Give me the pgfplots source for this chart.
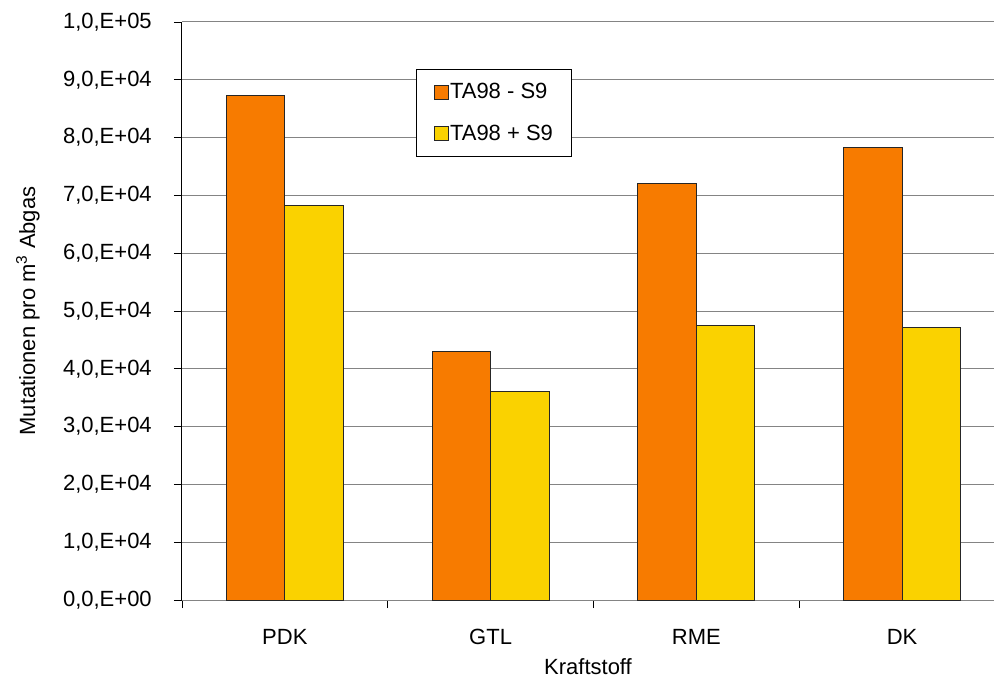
\documentclass[border=0pt]{standalone}
\usepackage{pgfplots}
\pgfplotsset{compat=1.18}
\usepackage{fontspec}
\setmainfont{Liberation Sans}
\definecolor{barorange}{HTML}{F77B00}
\definecolor{baryellow}{HTML}{FAD200}
\definecolor{gridgray}{HTML}{848484}
\pgfplotsset{sqlegend/.style={legend image code/.code={\draw[##1] (0pt,-5.25pt) rectangle (10.5pt,5.25pt);}}}
\begin{document}
\begin{tikzpicture}
\useasboundingbox (-136.5pt,-59.25pt) rectangle (609pt,450pt);
\begin{axis}[
  at={(0pt,0pt)}, anchor=south west,
  scale only axis, width=609pt, height=433.5pt,
  font=\fontsize{16.5}{19}\selectfont,
  ybar=0pt, bar width=0.284,
  xmin=-0.5, xmax=3.447,
  ymin=0, ymax=100000,
  axis x line*=bottom, axis y line*=left,
  x axis line style={gridgray, line width=0.75pt, -},
  y axis line style={black, line width=0.75pt, -},
  xtick={0,1,2,3},
  xticklabels={PDK,GTL,RME,DK},
  major x tick style={draw=none},
  minor xtick={-0.5,0.5,1.5,2.5},
  minor x tick style={black, line width=0.6pt},
  minor tick length=6pt,
  tick align=outside,
  major tick length=6pt,
  ytick={0,10000,20000,30000,40000,50000,60000,70000,80000,90000,100000},
  yticklabels={{0,0,E+00},{1,0,E+04},{2,0,E+04},{3,0,E+04},{4,0,E+04},{5,0,E+04},{6,0,E+04},{7,0,E+04},{8,0,E+04},{9,0,E+04},{1,0,E+05}},
  y tick style={black, line width=0.6pt},
  ymajorgrids,
  grid style={gridgray, line width=0.75pt},
  scaled y ticks=false,
  y tick label style={anchor=east, inner sep=0pt, xshift=-16.5pt},
  x tick label style={anchor=center, inner sep=0pt, yshift=-21.75pt},
  xlabel={Kraftstoff},
  ylabel={Mutationen pro m\textsuperscript{3} Abgas},
  every axis x label/.style={at={(axis description cs:0.5,-0.1155)}, anchor=center},
  every axis y label/.style={at={(axis description cs:-0.1897,0.5)}, rotate=90, anchor=center},
  legend style={at={(axis description cs:0.288,0.9187)}, anchor=north west,
    draw=black, line width=0.75pt, fill=white, inner xsep=13pt, inner ysep=9.5pt,
    row sep=16pt, font=\fontsize{16.5}{19}\selectfont,
    nodes={inner sep=1pt},
    /tikz/every even column/.append style={column sep=2.5pt}},
  legend cell align=left,
]
\addplot[fill=barorange, draw=black!85, line width=0.75pt, sqlegend]
  coordinates {(0,87200) (1,43000) (2,72100) (3,78300)};
\addplot[fill=baryellow, draw=black!85, line width=0.75pt, sqlegend]
  coordinates {(0,68200) (1,36000) (2,47500) (3,47100)};
\legend{TA98 - S9, TA98 + S9}
\end{axis}
\end{tikzpicture}
\end{document}
